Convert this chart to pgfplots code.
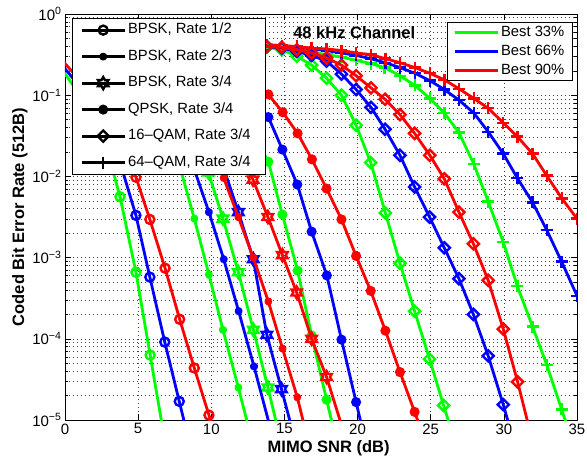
\documentclass[border=0pt]{standalone}
\usepackage{fontspec}
\setmainfont{Liberation Sans}
\usepackage{pgfplots}
\pgfplotsset{compat=1.18}
\definecolor{mg}{rgb}{0,1,0}
\definecolor{mb}{rgb}{0,0,1}
\definecolor{mr}{rgb}{1,0,0}
\newcommand\tfs{\fontsize{15}{17}\selectfont}
\newcommand\lfs{\fontsize{14.8}{17}\selectfont}
\newcommand\bfs{\fontsize{16.5}{19}\selectfont\bfseries}
\pgfdeclareplotmark{hexa}{%
  \pgfpathmoveto{\pgfpointpolar{90}{\pgfplotmarksize}}%
  \pgfpathlineto{\pgfpointpolar{120}{0.577\pgfplotmarksize}}%
  \pgfpathlineto{\pgfpointpolar{150}{\pgfplotmarksize}}%
  \pgfpathlineto{\pgfpointpolar{180}{0.577\pgfplotmarksize}}%
  \pgfpathlineto{\pgfpointpolar{210}{\pgfplotmarksize}}%
  \pgfpathlineto{\pgfpointpolar{240}{0.577\pgfplotmarksize}}%
  \pgfpathlineto{\pgfpointpolar{270}{\pgfplotmarksize}}%
  \pgfpathlineto{\pgfpointpolar{300}{0.577\pgfplotmarksize}}%
  \pgfpathlineto{\pgfpointpolar{330}{\pgfplotmarksize}}%
  \pgfpathlineto{\pgfpointpolar{0}{0.577\pgfplotmarksize}}%
  \pgfpathlineto{\pgfpointpolar{30}{\pgfplotmarksize}}%
  \pgfpathlineto{\pgfpointpolar{60}{0.577\pgfplotmarksize}}%
  \pgfpathclose\pgfusepathqstroke}
\pgfdeclareplotmark{mstar}{%
  \pgfpathmoveto{\pgfpointpolar{0}{\pgfplotmarksize}}\pgfpathlineto{\pgfpointpolar{180}{\pgfplotmarksize}}%
  \pgfpathmoveto{\pgfpointpolar{45}{\pgfplotmarksize}}\pgfpathlineto{\pgfpointpolar{225}{\pgfplotmarksize}}%
  \pgfpathmoveto{\pgfpointpolar{90}{\pgfplotmarksize}}\pgfpathlineto{\pgfpointpolar{270}{\pgfplotmarksize}}%
  \pgfpathmoveto{\pgfpointpolar{135}{\pgfplotmarksize}}\pgfpathlineto{\pgfpointpolar{315}{\pgfplotmarksize}}%
  \pgfusepathqstroke}
\pgfdeclareplotmark{mdiam}{%
  \pgfpathmoveto{\pgfqpoint{0pt}{\pgfplotmarksize}}%
  \pgfpathlineto{\pgfqpoint{\pgfplotmarksize}{0pt}}%
  \pgfpathlineto{\pgfqpoint{0pt}{-\pgfplotmarksize}}%
  \pgfpathlineto{\pgfqpoint{-\pgfplotmarksize}{0pt}}%
  \pgfpathclose\pgfusepathqstroke}
\pgfplotsset{
  mo/.style={mark options={solid, line width=2.4pt}},
  curve/.style={line width=2.8pt},
  m12/.style={mark=o, mark size=4.5pt, mo},
  m23/.style={mark=mstar, mark size=3.8pt, mo},
  m34/.style={mark=hexa, mark size=6pt, mo},
  mq/.style={mark=*, mark size=3.8pt, mo},
  m16/.style={mark=mdiam, mark size=5.6pt, mo},
  m64/.style={mark=+, mark size=6pt, mo},
  lg/.style={legend image code/.code={\draw[mark repeat=2,mark phase=2,##1] plot coordinates {(0pt,0pt)(21.5pt,0pt)(43pt,0pt)};}},
}
\begin{document}
\begin{tikzpicture}
\path[use as bounding box] (-65pt,-46pt) rectangle (522pt,420pt);
\begin{axis}[
  at={(0pt,0pt)}, anchor=south west,
  scale only axis, width=512pt, height=406pt,
  xmin=0, xmax=35, ymode=log, ymin=1e-5, ymax=1,
  xtick={0,5,...,35},
  ytick={1e-5,1e-4,1e-3,1e-2,1e-1,1},
  yticklabels={10\textsuperscript{−5},10\textsuperscript{−4},10\textsuperscript{−3},10\textsuperscript{−2},10\textsuperscript{−1},10\textsuperscript{0}},
  /pgf/number format/assume math mode=true,
  tick label style={font=\tfs},
  tick align=inside, major tick length=6pt, minor tick length=3pt,
  every tick/.style={black, line width=0.5pt},
  axis line style={black, line width=0.8pt},
  xmajorgrids, ymajorgrids, yminorgrids,
  grid style={black!75, line width=0.5pt, dash pattern=on 0.7pt off 3.3pt},
  minor grid style={black!75, line width=0.5pt, dash pattern=on 0.7pt off 3.3pt},
  clip marker paths=true,
  xlabel={MIMO SNR (dB)}, ylabel={Coded Bit Error Rate (512B)},
  label style={font=\bfs},
  xlabel style={at={(axis description cs:0.515,-0.069)}, anchor=center},
  ylabel style={at={(axis description cs:-0.088,0.5)}, anchor=center},
  lg,
  legend style={at={(0.0137,0.990)}, anchor=north west, draw=black, line width=0.6pt, fill=white, font=\lfs,
    inner xsep=8pt, inner ysep=3pt, row sep=9pt, cells={anchor=west},
    nodes={inner sep=2pt, text height=10.5pt, text depth=3pt}},
]
\addlegendimage{black, curve, m12}\addlegendentry{BPSK, Rate 1/2}
\addlegendimage{black, curve, m23}\addlegendentry{BPSK, Rate 2/3}
\addlegendimage{black, curve, m34}\addlegendentry{BPSK, Rate 3/4}
\addlegendimage{black, curve, mq}\addlegendentry{QPSK, Rate 3/4}
\addlegendimage{black, curve, m16}\addlegendentry{16--QAM, Rate 3/4}
\addlegendimage{black, curve, m64}\addlegendentry{64--QAM, Rate 3/4\hspace*{5pt}}
% 64-QAM
\addplot[curve, mg, m64, forget plot] table[row sep=\\, y expr=10^(\thisrow{e})] {x e\\ 12.8 -0.38\\ 13.8 -0.39\\ 14.82 -0.41\\ 15.84 -0.44\\ 16.86 -0.47\\ 17.88 -0.5\\ 18.9 -0.53\\ 19.9 -0.57\\ 20.9 -0.61\\ 21.85 -0.66\\ 22.9 -0.76\\ 23.92 -0.88\\ 24.94 -1.04\\ 25.93 -1.22\\ 26.93 -1.46\\ 27.95 -1.85\\ 28.93 -2.31\\ 29.96 -2.81\\ 30.92 -3.35\\ 31.96 -3.85\\ 32.93 -4.32\\ 33.95 -4.87\\ 34.95 -5.4\\};
\addplot[curve, mb, m64, forget plot] table[row sep=\\, y expr=10^(\thisrow{e})] {x e\\ 12.8 -0.37\\ 13.8 -0.38\\ 14.82 -0.39\\ 15.84 -0.41\\ 16.86 -0.43\\ 17.88 -0.45\\ 18.9 -0.48\\ 19.9 -0.51\\ 20.9 -0.55\\ 21.9 -0.60\\ 22.9 -0.66\\ 23.92 -0.73\\ 24.94 -0.82\\ 25.93 -0.93\\ 26.93 -1.06\\ 27.95 -1.22\\ 28.93 -1.45\\ 29.96 -1.72\\ 30.92 -2.02\\ 31.96 -2.32\\ 32.93 -2.66\\ 33.95 -3.05\\ 35.0 -3.47\\};
\addplot[curve, mr, m64, forget plot] table[row sep=\\, y expr=10^(\thisrow{e})] {x e\\ 12.8 -0.37\\ 13.8 -0.38\\ 14.82 -0.39\\ 15.84 -0.40\\ 16.86 -0.42\\ 17.88 -0.43\\ 18.9 -0.45\\ 19.9 -0.48\\ 20.9 -0.50\\ 21.9 -0.55\\ 22.9 -0.60\\ 23.92 -0.66\\ 24.94 -0.73\\ 25.93 -0.81\\ 26.93 -0.92\\ 27.95 -1.04\\ 28.93 -1.16\\ 29.96 -1.34\\ 30.92 -1.51\\ 31.96 -1.72\\ 32.93 -1.99\\ 33.96 -2.27\\ 35.0 -2.52\\};
% 16-QAM
\addplot[curve, mg, m16, forget plot] table[row sep=\\, y expr=10^(\thisrow{e})] {x e\\ 12.8 -0.39\\ 13.8 -0.41\\ 14.82 -0.44\\ 15.85 -0.52\\ 16.86 -0.63\\ 17.88 -0.79\\ 18.9 -1.0\\ 19.9 -1.37\\ 20.9 -1.83\\ 21.9 -2.45\\ 22.9 -3.07\\ 23.9 -3.66\\ 24.92 -4.25\\ 25.88 -4.82\\ 26.88 -5.4\\};
\addplot[curve, mb, m16, forget plot] table[row sep=\\, y expr=10^(\thisrow{e})] {x e\\ 12.8 -0.38\\ 13.8 -0.40\\ 14.82 -0.42\\ 15.85 -0.46\\ 16.86 -0.51\\ 17.88 -0.58\\ 18.9 -0.74\\ 19.9 -0.93\\ 20.92 -1.15\\ 21.88 -1.42\\ 22.9 -1.74\\ 23.9 -2.13\\ 24.92 -2.5\\ 25.93 -2.88\\ 26.93 -3.26\\ 27.92 -3.7\\ 28.93 -4.21\\ 29.96 -4.81\\ 30.96 -5.45\\};
\addplot[curve, mr, m16, forget plot] table[row sep=\\, y expr=10^(\thisrow{e})] {x e\\ 12.8 -0.38\\ 13.8 -0.40\\ 14.82 -0.41\\ 15.85 -0.44\\ 16.86 -0.48\\ 17.88 -0.54\\ 18.9 -0.63\\ 19.9 -0.76\\ 20.92 -0.91\\ 21.88 -1.05\\ 22.9 -1.24\\ 23.9 -1.47\\ 24.94 -1.74\\ 25.93 -2.03\\ 26.93 -2.44\\ 27.92 -2.83\\ 28.93 -3.28\\ 29.96 -3.88\\ 30.94 -4.53\\ 31.94 -5.25\\};
% QPSK 3/4
\addplot[curve, mg, mq, forget plot] table[row sep=\\, y expr=10^(\thisrow{e})] {x e\\ 7.85 -0.6\\ 8.85 -0.68\\ 9.85 -0.8\\ 10.85 -0.98\\ 11.85 -1.2\\ 12.87 -1.48\\ 13.9 -1.82\\ 14.86 -2.47\\ 15.9 -3.16\\ 16.86 -3.96\\ 17.88 -4.75\\ 18.88 -5.5\\};
\addplot[curve, mb, mq, forget plot] table[row sep=\\, y expr=10^(\thisrow{e})] {x e\\ 8.85 -0.55\\ 9.85 -0.63\\ 10.85 -0.74\\ 11.85 -0.88\\ 12.87 -1.05\\ 13.9 -1.27\\ 14.86 -1.67\\ 15.88 -2.1\\ 16.86 -2.68\\ 17.9 -3.22\\ 18.9 -4.01\\ 19.9 -4.78\\ 20.9 -5.55\\};
\addplot[curve, mr, mq, forget plot] table[row sep=\\, y expr=10^(\thisrow{e})] {x e\\ 9.85 -0.5\\ 10.85 -0.57\\ 11.85 -0.66\\ 12.87 -0.8\\ 13.9 -0.99\\ 14.88 -1.21\\ 15.9 -1.47\\ 16.88 -1.79\\ 17.88 -2.15\\ 18.9 -2.53\\ 19.9 -2.98\\ 20.9 -3.41\\ 21.9 -3.9\\ 22.9 -4.41\\ 23.9 -4.9\\ 24.9 -5.4\\};
% BPSK 3/4
\addplot[curve, mg, m34, forget plot] table[row sep=\\, y expr=10^(\thisrow{e})] {x e\\ 4.85 -0.75\\ 5.85 -0.88\\ 6.85 -1.05\\ 7.85 -1.27\\ 8.85 -1.55\\ 9.8 -1.95\\ 10.8 -2.52\\ 11.85 -3.18\\ 12.88 -3.89\\ 13.87 -4.6\\ 14.87 -5.35\\};
\addplot[curve, mb, m34, forget plot] table[row sep=\\, y expr=10^(\thisrow{e})] {x e\\ 5.85 -0.72\\ 6.85 -0.85\\ 7.85 -1.0\\ 8.85 -1.2\\ 9.85 -1.5\\ 10.85 -1.9\\ 11.85 -2.44\\ 12.87 -3.02\\ 13.8 -3.95\\ 14.8 -4.62\\ 15.8 -5.3\\};
\addplot[curve, mr, m34, forget plot] table[row sep=\\, y expr=10^(\thisrow{e})] {x e\\ 5.85 -0.62\\ 6.85 -0.72\\ 7.85 -0.85\\ 8.85 -1.0\\ 9.85 -1.2\\ 10.85 -1.45\\ 11.85 -1.72\\ 12.85 -2.04\\ 13.87 -2.5\\ 14.86 -2.97\\ 15.84 -3.43\\ 16.86 -4.0\\ 17.88 -4.47\\ 18.88 -5.05\\};
% BPSK 2/3
\addplot[curve, mg, m23, forget plot] table[row sep=\\, y expr=10^(\thisrow{e})] {x e\\ 2.85 -0.8\\ 3.85 -0.95\\ 4.85 -1.1\\ 5.85 -1.3\\ 6.85 -1.55\\ 7.85 -1.88\\ 8.84 -2.52\\ 9.84 -3.21\\ 10.8 -3.89\\ 11.85 -4.6\\ 12.85 -5.3\\};
\addplot[curve, mb, m23, forget plot] table[row sep=\\, y expr=10^(\thisrow{e})] {x e\\ 3.85 -0.7\\ 4.85 -0.85\\ 5.85 -1.0\\ 6.85 -1.2\\ 7.85 -1.5\\ 8.85 -1.92\\ 9.84 -2.44\\ 10.85 -3.02\\ 11.87 -3.66\\ 12.92 -4.34\\ 13.92 -5.02\\ 14.92 -5.7\\};
\addplot[curve, mr, m23, forget plot] table[row sep=\\, y expr=10^(\thisrow{e})] {x e\\ 4.85 -0.7\\ 5.85 -0.8\\ 6.85 -0.95\\ 7.85 -1.12\\ 8.85 -1.35\\ 9.85 -1.65\\ 10.85 -2.02\\ 11.85 -2.5\\ 12.87 -3.0\\ 13.9 -3.54\\ 14.87 -4.12\\ 15.88 -4.72\\ 16.88 -5.45\\};
% BPSK 1/2
\addplot[curve, mg, m12, forget plot] table[row sep=\\, y expr=10^(\thisrow{e})] {x e\\ -0.15 -0.70\\ 0.85 -0.95\\ 1.8 -1.25\\ 2.8 -1.62\\ 3.76 -2.25\\ 4.85 -3.18\\ 5.82 -4.2\\ 6.8 -5.23\\};
\addplot[curve, mb, m12, forget plot] table[row sep=\\, y expr=10^(\thisrow{e})] {x e\\ -0.15 -0.64\\ 0.85 -0.86\\ 1.85 -1.12\\ 2.85 -1.44\\ 3.85 -1.88\\ 4.85 -2.48\\ 5.8 -3.24\\ 6.82 -4.04\\ 7.81 -4.77\\ 8.8 -5.5\\};
\addplot[curve, mr, m12, forget plot] table[row sep=\\, y expr=10^(\thisrow{e})] {x e\\ -0.15 -0.58\\ 0.85 -0.78\\ 1.85 -1.02\\ 2.85 -1.3\\ 3.85 -1.63\\ 4.85 -2.01\\ 5.8 -2.53\\ 6.84 -3.13\\ 7.84 -3.76\\ 8.84 -4.36\\ 9.84 -4.94\\ 10.84 -5.5\\};
\node[font=\bfs, anchor=center] at (rel axis cs:0.565,0.954) {48 kHz Channel};
\end{axis}
\begin{axis}[
  at={(0pt,0pt)}, anchor=south west,
  scale only axis, width=512pt, height=406pt,
  hide axis, xmin=0, xmax=1, ymin=0, ymax=1,
  lg,
  legend style={at={(0.9916,0.981)}, anchor=north east, draw=black, line width=0.6pt, fill=white, font=\lfs,
    inner xsep=6pt, inner ysep=1.5pt, row sep=1.5pt, cells={anchor=west},
    nodes={inner sep=2pt, text height=10.5pt, text depth=3pt}},
]
\addlegendimage{mg, line width=2.8pt}\addlegendentry{Best 33\%}
\addlegendimage{mb, line width=2.8pt}\addlegendentry{Best 66\%}
\addlegendimage{mr, line width=2.8pt}\addlegendentry{Best 90\%}
\end{axis}
\end{tikzpicture}
\end{document}
